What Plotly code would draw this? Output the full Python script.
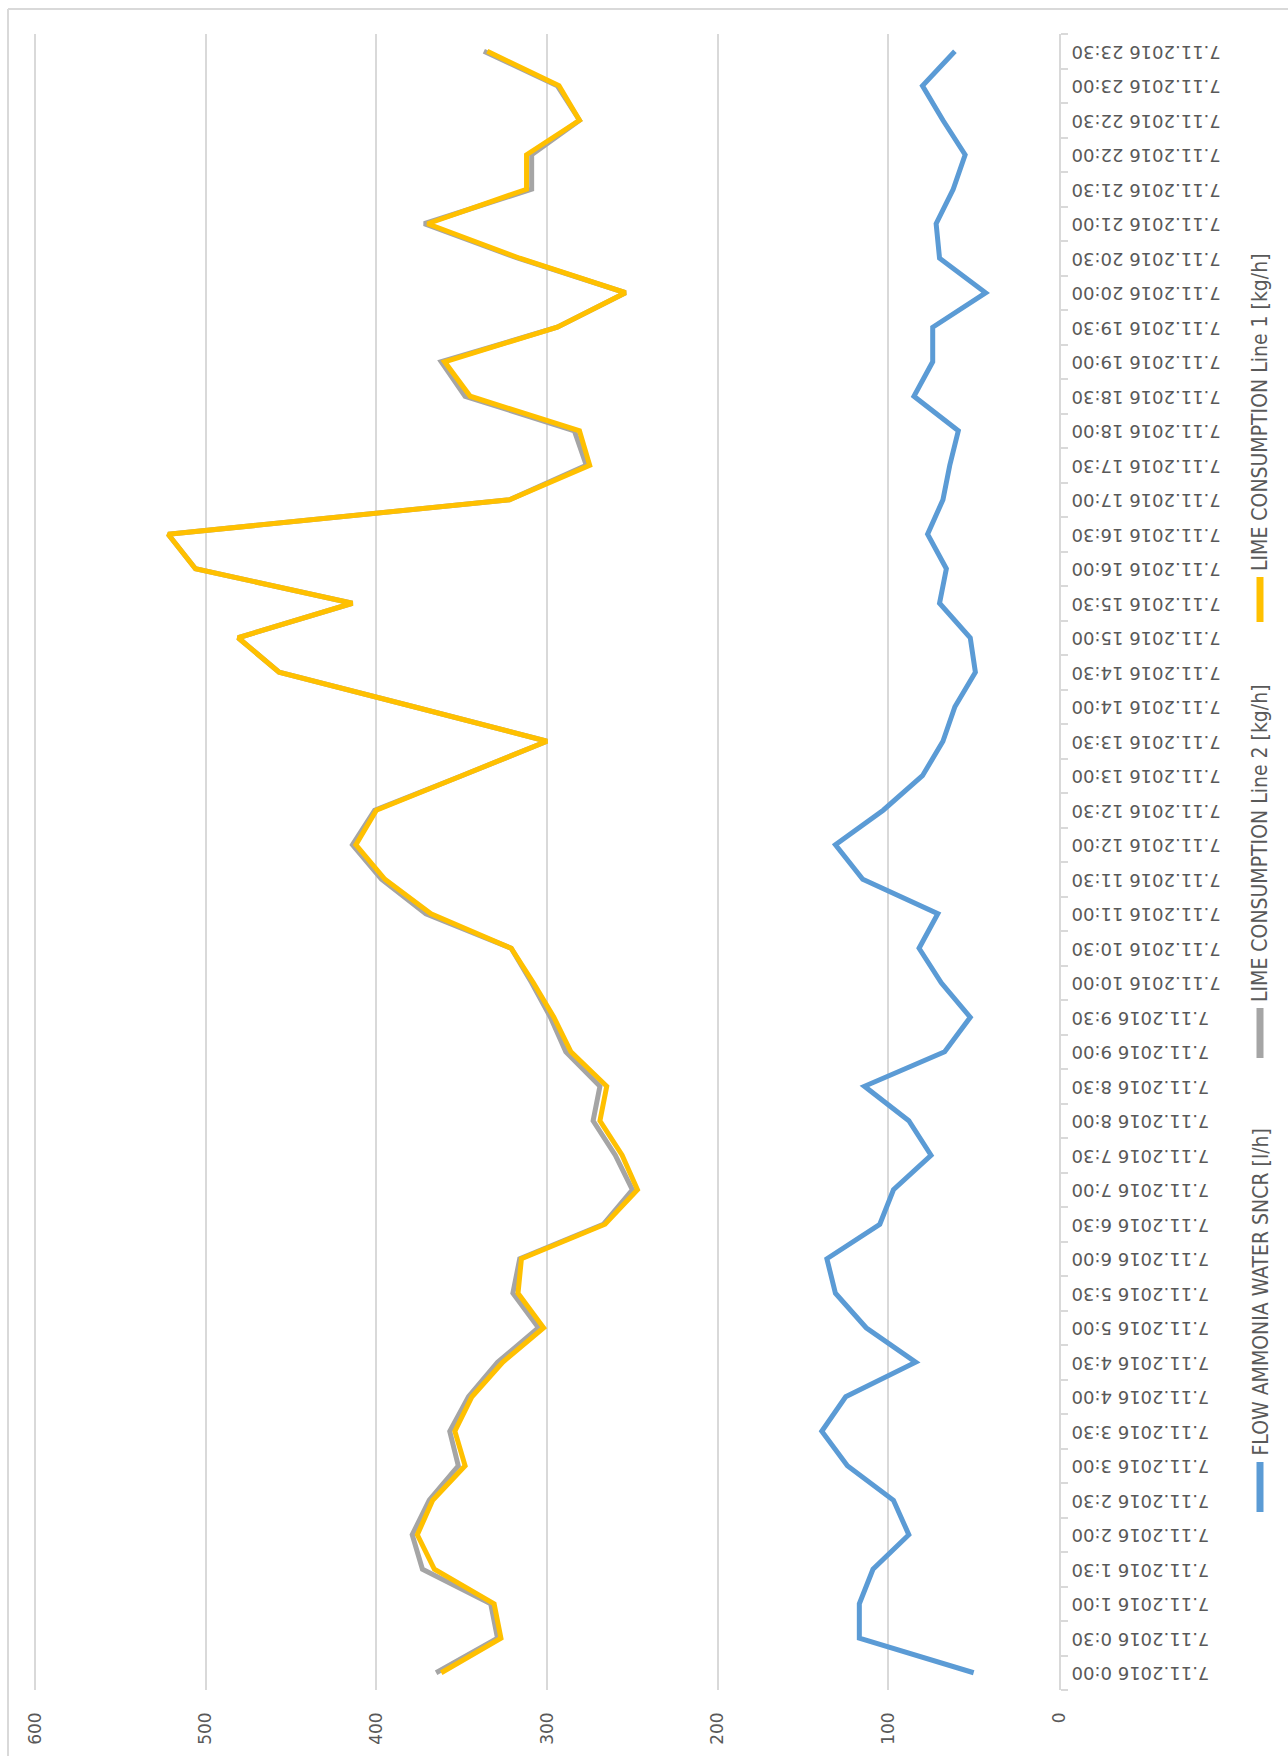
import plotly.graph_objects as go

# Half-hourly timestamps on the category axis
times = [f"7.11.2016 {h}:{m:02d}" for h in range(24) for m in (0, 30)]

ammonia_flow = [50, 117, 117, 109, 88, 97, 124, 139, 125, 84,
                113, 131, 136, 105, 97, 75, 88, 114, 67, 52,
                69, 82, 71, 115, 131, 103, 80, 68, 61, 49,
                52, 70, 66, 77, 68, 64, 59, 85, 74, 74,
                43, 70, 72, 62, 55, 68, 80, 61]

lime_line2 = [365, 329, 333, 373, 379, 369, 352, 357, 346, 329,
              305, 320, 316, 267, 250, 260, 273, 269, 289, 298,
              309, 321, 371, 397, 414, 401, 350, 300, 378, 457,
              481, 414, 506, 522, 322, 277, 284, 348, 362, 294,
              254, 317, 372, 309, 309, 281, 294, 337]

lime_line1 = [362, 327, 331, 366, 376, 367, 348, 354, 344, 326,
              302, 317, 315, 266, 247, 256, 269, 265, 286, 296,
              308, 321, 368, 395, 412, 400, 350, 300, 378, 457,
              481, 414, 506, 522, 322, 275, 281, 345, 360, 294,
              254, 316, 370, 312, 312, 281, 293, 335]

value_ticks = [0, 100, 200, 300, 400, 500, 600]

series = [
    ("FLOW AMMONIA WATER SNCR [l/h]", ammonia_flow, "#5B9BD5"),
    ("LIME CONSUMPTION Line 2 [kg/h]", lime_line2, "#A5A5A5"),
    ("LIME CONSUMPTION Line 1 [kg/h]", lime_line1, "#FFC000"),
]

TEXT = "#595959"
GRID = "#D9D9D9"

fig = go.Figure()
for name, vals, color in series:
    fig.add_trace(go.Scatter(
        x=vals, y=times, name=name, mode="lines",
        line=dict(color=color, width=5),
        showlegend=False,
    ))

# Vertical legend along the right edge, reading bottom to top
legend_pos = [  # (swatch bottom px, swatch top px)
    (1512, 1462),
    (1058, 1008),
    (622, 577),
]
W, H = 1288, 1756
L, R, T, B = 33, 229, 34, 66
pw, ph = W - L - R, H - T - B


def px_to_paper_x(px):
    return (px - L) / pw


def px_to_paper_y(py):
    return (H - B - py) / ph


shapes = []
annotations = []
for (name, _, color), (sb, st) in zip(series, legend_pos):
    x = px_to_paper_x(1260)
    shapes.append(dict(type="line", xref="paper", yref="paper",
                       x0=x, x1=x, y0=px_to_paper_y(sb), y1=px_to_paper_y(st),
                       line=dict(color=color, width=7)))
    annotations.append(dict(text=name, xref="paper", yref="paper",
                            x=x, y=px_to_paper_y(st - 4),
                            xanchor="center", yanchor="bottom",
                            textangle=-90, showarrow=False,
                            font=dict(family="Liberation Sans Narrow, DejaVu Sans Condensed, Roboto",
                                      size=21, color=TEXT)))

# Chart-area border (left and top edges)
shapes.append(dict(type="line", xref="paper", yref="paper",
                   x0=px_to_paper_x(8), x1=px_to_paper_x(8),
                   y0=px_to_paper_y(H), y1=px_to_paper_y(9),
                   line=dict(color=GRID, width=2)))
shapes.append(dict(type="line", xref="paper", yref="paper",
                   x0=px_to_paper_x(8), x1=px_to_paper_x(W),
                   y0=px_to_paper_y(9), y1=px_to_paper_y(9),
                   line=dict(color=GRID, width=2)))

fig.update_layout(
    width=W, height=H,
    margin=dict(l=L, r=R, t=T, b=B),
    paper_bgcolor="white", plot_bgcolor="white",
    font=dict(family="DejaVu Sans", color=TEXT),
    shapes=shapes, annotations=annotations,
    showlegend=False,
)

fig.update_xaxes(
    range=[601.2, 0], tickvals=value_ticks,
    showgrid=True, gridcolor=GRID, gridwidth=1.5,
    zeroline=False, showline=False,
    tickangle=-90, ticklabelstandoff=18,
    tickfont=dict(family="DejaVu Sans", size=17, color=TEXT),
)

fig.update_yaxes(
    type="category", categoryorder="array", categoryarray=times,
    range=[-0.5, len(times) - 0.5],
    side="right", showgrid=False, zeroline=False,
    showline=True, linecolor=GRID, linewidth=2,
    ticks="outside", tickson="boundaries", ticklen=7, tickcolor=GRID, tickwidth=2,
    ticklabelposition="inside",
    tickangle=180, ticklabelshift=6,
    tickfont=dict(family="DejaVu Sans", size=18, color=TEXT),
)
# Upside-down labels sit just right of the axis, past the tick marks
try:
    fig.update_yaxes(ticklabelstandoff=-12)
except ValueError:
    pass

fig.write_html("out.html")
